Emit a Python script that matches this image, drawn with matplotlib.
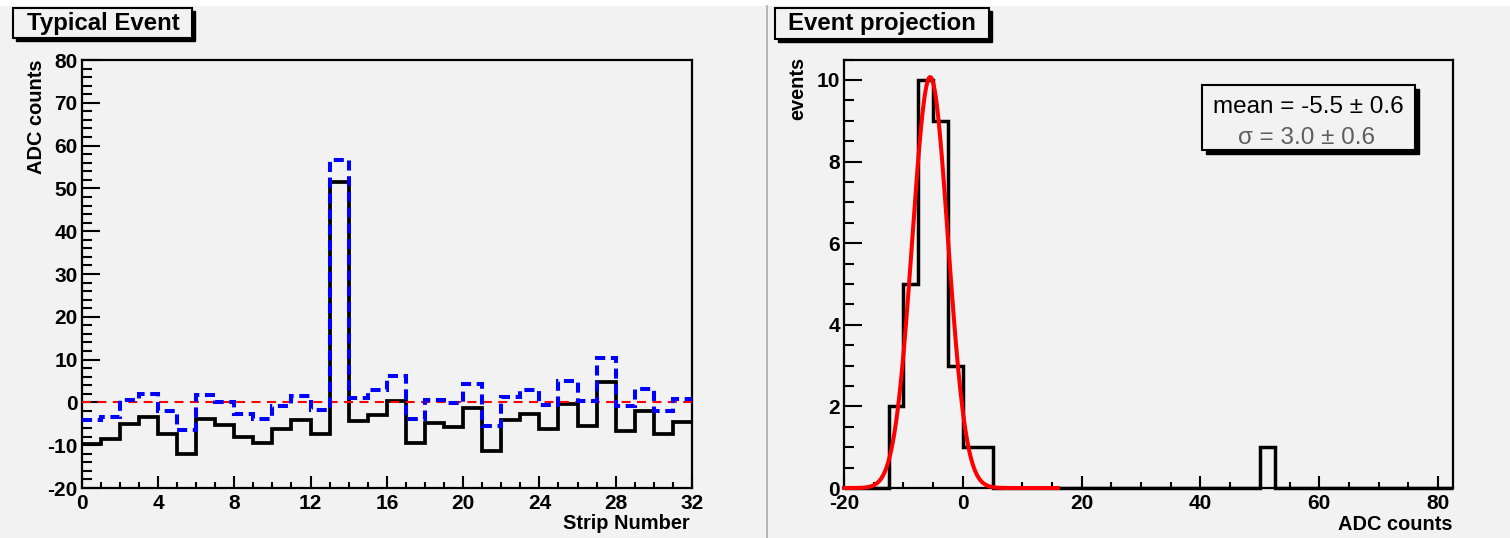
import numpy as np
import matplotlib.pyplot as plt
from matplotlib.patches import Rectangle
from matplotlib.ticker import MultipleLocator

W, H = 1510, 538
BG = '#f2f2f2'

# per-strip ADC values
strip_edges = np.arange(33)
adc_corrected = [-9.7, -8.5, -5.1, -3.5, -7.4, -12.1, -3.9, -5.2, -8.0, -9.5, -6.2, -4.1,
                 -7.4, 51.4, -4.4, -2.9, 0.4, -9.5, -4.8, -5.8, -1.2, -11.3, -4.2, -2.6,
                 -6.2, -0.3, -5.6, 4.8, -6.6, -2.1, -7.3, -4.6]
adc_raw = [-4.2, -3.3, 0.5, 2.0, -1.9, -6.4, 1.8, 0.2, -2.6, -3.8, -0.9, 1.4,
           -1.7, 56.7, 1.0, 3.0, 6.1, -3.9, 0.6, -0.2, 4.3, -5.5, 1.3, 2.8,
           -0.5, 4.9, 0.4, 10.4, -0.9, 3.2, -1.9, 0.9]

# projection histogram binning and gaussian fit
proj_edges = np.arange(-20, 82.5 + 0.01, 2.5)
fit_amp = 10.07
fit_mean, fit_mean_err = -5.5, 0.6
fit_sigma, fit_sigma_err = 3.0, 0.6
fit_range = (-20, 16)

plt.rcParams['font.family'] = ['Liberation Sans', 'DejaVu Sans']
plt.rcParams['axes.unicode_minus'] = False

fig = plt.figure(figsize=(W / 100, H / 100), dpi=100, facecolor=BG)


def frac(l, t, r, b):
    return [l / W, 1 - b / H, (r - l) / W, (b - t) / H]


def style(ax):
    ax.set_facecolor(BG)
    for s in ax.spines.values():
        s.set_linewidth(1.6)
    ax.tick_params(which='both', direction='in', top=False, right=False,
                   labelsize=15, width=1.5)
    ax.tick_params(axis='y', which='major', length=13, pad=3)
    ax.tick_params(axis='y', which='minor', length=7)
    ax.tick_params(axis='x', which='major', length=8.5, pad=4)
    ax.tick_params(axis='x', which='minor', length=4.5)
    for lab in ax.get_xticklabels() + ax.get_yticklabels():
        lab.set_fontweight('bold')


# left: typical event
ax1 = fig.add_axes(frac(81.7, 60, 692, 488))
ax1.stairs(adc_corrected, strip_edges, baseline=None, color='black', lw=2.7, zorder=2)
ax1.axhline(0, color='red', lw=1.5, linestyle=(0, (4.3, 3.1)), zorder=3)
ax1.stairs(adc_raw, strip_edges, baseline=None, color='blue', lw=2.9,
           linestyle=(0, (2.5, 1.4)), zorder=4)
ax1.set_xlim(0, 32)
ax1.set_ylim(-20, 80)
ax1.xaxis.set_major_locator(MultipleLocator(4))
ax1.xaxis.set_minor_locator(MultipleLocator(1))
ax1.yaxis.set_major_locator(MultipleLocator(10))
ax1.yaxis.set_minor_locator(MultipleLocator(2))
style(ax1)

# right: event projection
ax2 = fig.add_axes(frac(844, 59.5, 1453, 488))
counts, _ = np.histogram(adc_corrected, bins=proj_edges)
ax2.stairs(counts, proj_edges, baseline=None, color='black', lw=2.5, clip_on=False, zorder=2)
xf = np.linspace(fit_range[0], fit_range[1], 400)
yf = fit_amp * np.exp(-0.5 * ((xf - fit_mean) / fit_sigma) ** 2)
ax2.plot(xf, yf, color='red', lw=2.9, clip_on=False, zorder=3)
ax2.set_xlim(-20, 82.5)
ax2.set_ylim(0, 10.5)
ax2.xaxis.set_major_locator(MultipleLocator(20))
ax2.xaxis.set_minor_locator(MultipleLocator(5))
ax2.yaxis.set_major_locator(MultipleLocator(2))
ax2.yaxis.set_minor_locator(MultipleLocator(0.5))
style(ax2)

# overlay in pixel coordinates for pad decorations
ov = fig.add_axes([0, 0, 1, 1], zorder=10)
ov.set_xlim(0, W)
ov.set_ylim(H, 0)
ov.axis('off')
ov.patch.set_alpha(0)

ov.add_patch(Rectangle((0, 0), W, 6, facecolor='white', edgecolor='none'))
ov.plot([765.8, 765.8], [6, H], color='white', lw=1)
ov.plot([767.2, 767.2], [6, H], color='#a8a8a8', lw=1.2)


def boxed(x0, y0, x1, y1, sh):
    ov.add_patch(Rectangle((x0 + sh, y0 + sh), x1 - x0, y1 - y0, facecolor='black',
                           edgecolor='black', lw=1.0))
    ov.add_patch(Rectangle((x0, y0), x1 - x0, y1 - y0, facecolor=BG,
                           edgecolor='black', lw=1.5))


boxed(13, 8, 192, 38, 3)
ov.text(27, 23.5, 'Typical Event', fontsize=17.3, fontweight='bold', ha='left', va='center')
boxed(775, 8, 989, 39, 3)
ov.text(788, 23.5, 'Event projection', fontsize=17.3, fontweight='bold', ha='left', va='center')

boxed(1202, 85, 1415, 150, 4)
ov.text(1308, 107, f'mean = {fit_mean:.1f} \u00b1 {fit_mean_err:.1f}', fontsize=17.5,
        ha='center', va='center')
ov.text(1307, 138, f'\u03c3 = {fit_sigma:.1f} \u00b1 {fit_sigma_err:.1f}', fontsize=17.5,
        ha='center', va='center', color='#5e5e5e')

# axis titles
ov.text(36, 60, 'ADC counts', rotation=90, fontsize=14.4, fontweight='bold',
        ha='center', va='top')
ov.text(690, 529, 'Strip Number', fontsize=14.4, fontweight='bold', ha='right', va='baseline')
ov.text(798, 57, 'events', rotation=90, fontsize=14.4, fontweight='bold',
        ha='center', va='top')
ov.text(1452, 530, 'ADC counts', fontsize=14.4, fontweight='bold', ha='right', va='baseline')

fig.savefig('out.png', dpi=100, facecolor=BG)
